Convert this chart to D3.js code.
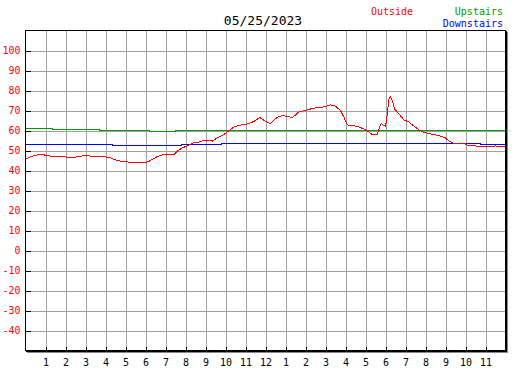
<!DOCTYPE html>
<html><head><meta charset="utf-8">
<script src="https://cdn.jsdelivr.net/npm/d3@7"></script>
<style>
html,body{margin:0;padding:0;background:#fff;}
svg{display:block;}
text{font-family:"DejaVu Sans Mono",monospace;}
</style></head>
<body>
<svg id="c" width="527" height="370"></svg>
<script>
const title = "05/25/2023";
const seriesNames = ["Outside", "Upstairs", "Downstairs"];
const seriesColors = ["#ff0000", "#009900", "#0000ff"];
const yTicks = [100, 90, 80, 70, 60, 50, 40, 30, 20, 10, 0, -10, -20, -30, -40];
const xTickHours = [1,2,3,4,5,6,7,8,9,10,11,12,13,14,15,16,17,18,19,20,21,22,23];
const xTickLabels = ["1","2","3","4","5","6","7","8","9","10","11","12","1","2","3","4","5","6","7","8","9","10","11"];

const outsideHours = [0,0.34,0.67,0.92,1.34,2.0,2.09,2.4,2.84,3.09,3.34,3.65,4.0,4.25,4.59,4.92,5.34,5.5,5.75,6.0,6.25,6.59,6.84,7.42,7.59,7.84,8.09,8.34,8.59,8.84,9.09,9.34,9.59,9.84,10.09,10.42,10.75,11.09,11.42,11.72,12.0,12.25,12.59,12.84,13.09,13.35,13.67,14.09,14.42,14.75,15.0,15.25,15.5,15.75,15.92,16.09,16.34,16.59,16.92,17.17,17.34,17.58,17.67,17.78,18.0,18.09,18.17,18.25,18.34,18.45,18.67,18.92,19.17,19.42,19.67,19.9,20.25,20.65,21.0,21.17,21.42,22.0,22.1,22.59,23.25,23.35,23.5,23.65,24.0];
const outsideValues = [45.8,47.2,48,47.8,47,46.8,46.3,46.5,47.3,47.5,47,47.2,46.8,46.3,45,44.3,44.2,43.8,44,43.8,45,47,47.8,47.8,49.7,51.3,52.3,53.7,54,54.8,55.2,54.7,56.3,57.5,59.3,61.8,62.7,63.3,64.5,66.5,64.5,63.5,66.7,67.5,67,66.5,69.3,70.3,71.2,71.5,72,72.8,72.2,70,66.7,62.8,62.5,62,60.8,59.2,58,58,60.8,63.5,62,68.3,75.8,77,75,70.8,68.3,65.3,64.2,62.2,60.3,59.2,58.3,57.5,56.3,54.7,53.5,53.3,52.5,52.2,52.2,51.8,52.3,51.8,51.8];

const upstairsHours = [0, 1.35, 3.7, 6.2, 7.5, 24];
const upstairsValues = [61, 60.5, 60, 59.5, 60, 60];

const downstairsHours = [0, 4.35, 7.8, 9.8, 22.75, 24];
const downstairsValues = [53, 52.5, 53, 53.5, 53, 53];

const svg = d3.select("#c");
const W = 480, H = 320, L = 25, T = 30;
const x = d3.scaleLinear().domain([0, 24]).range([0, W]);
const y = d3.scaleLinear().domain([-50, 110]).range([H, 0]);

// shadow
svg.append("rect").attr("x", L + 2).attr("y", T + 2).attr("width", W + 1).attr("height", H + 1)
  .attr("fill", "#888");
svg.append("rect").attr("x", L).attr("y", T).attr("width", W + 1).attr("height", H + 1)
  .attr("fill", "#fff");

const g = svg.append("g").attr("transform", `translate(${L + 0.5},${T + 0.5})`);

// grid
const gx = g.append("g").attr("transform", `translate(0,${H})`)
  .call(d3.axisBottom(x).tickValues(xTickHours).tickSize(-H).tickFormat(""));
gx.select(".domain").remove();
gx.selectAll("line").attr("stroke", "#a0a0a0").attr("shape-rendering", "crispEdges");
const gy = g.append("g")
  .call(d3.axisLeft(y).tickValues(yTicks).tickSize(-W).tickFormat(""));
gy.select(".domain").remove();
gy.selectAll("line").attr("stroke", "#a0a0a0").attr("shape-rendering", "crispEdges");

// lines
function drawLine(hours, values, color, curve) {
  const pts = hours.map((h, i) => [h, values[i]]);
  g.append("path").datum(pts)
    .attr("fill", "none").attr("stroke", color).attr("stroke-width", 1)
    .attr("shape-rendering", "crispEdges")
    .attr("d", d3.line().x(d => x(d[0])).y(d => y(d[1])).curve(curve));
}
drawLine(downstairsHours, downstairsValues, seriesColors[2], d3.curveStepAfter);
drawLine(upstairsHours, upstairsValues, seriesColors[1], d3.curveStepAfter);
drawLine(outsideHours, outsideValues, seriesColors[0], d3.curveLinear);

// axes
const ay = g.append("g")
  .call(d3.axisLeft(y).tickValues(yTicks).tickSize(-5).tickPadding(5).tickFormat(d => String(d)));
ay.select(".domain").remove();
ay.selectAll("line").attr("stroke", "#000").attr("shape-rendering", "crispEdges");
ay.selectAll("text").attr("fill", seriesColors[0]).attr("font-size", 10)
  .attr("font-family", '"DejaVu Sans Mono", monospace');

const ax = g.append("g").attr("transform", `translate(0,${H})`)
  .call(d3.axisBottom(x).tickValues(xTickHours).tickSize(-4).tickPadding(8)
    .tickFormat((d, i) => xTickLabels[i]));
ax.select(".domain").remove();
ax.selectAll("line").attr("stroke", "#000").attr("shape-rendering", "crispEdges");
ax.selectAll("text").attr("fill", "#000").attr("font-size", 10)
  .attr("font-family", '"DejaVu Sans Mono", monospace');

// frame
g.append("rect").attr("x", 0).attr("y", 0).attr("width", W).attr("height", H)
  .attr("fill", "none").attr("stroke", "#000").attr("stroke-width", 1)
  .attr("shape-rendering", "crispEdges");
g.append("line").attr("x1", 0).attr("x2", W + 1).attr("y1", H + 1).attr("y2", H + 1)
  .attr("stroke", "#000").attr("shape-rendering", "crispEdges");
g.append("line").attr("x1", W + 1).attr("x2", W + 1).attr("y1", 0).attr("y2", H + 1)
  .attr("stroke", "#000").attr("shape-rendering", "crispEdges");

// title and legend
svg.append("text").attr("x", 263).attr("y", 25).attr("text-anchor", "middle")
  .attr("font-size", 13).attr("fill", "#000").text(title);
svg.append("text").attr("x", 392).attr("y", 15).attr("text-anchor", "middle")
  .attr("font-size", 10).attr("fill", seriesColors[0]).text(seriesNames[0]);
svg.append("text").attr("x", 503).attr("y", 15).attr("text-anchor", "end")
  .attr("font-size", 10).attr("fill", seriesColors[1]).text(seriesNames[1]);
svg.append("text").attr("x", 503).attr("y", 27).attr("text-anchor", "end")
  .attr("font-size", 10).attr("fill", seriesColors[2]).text(seriesNames[2]);
</script>
</body></html>
